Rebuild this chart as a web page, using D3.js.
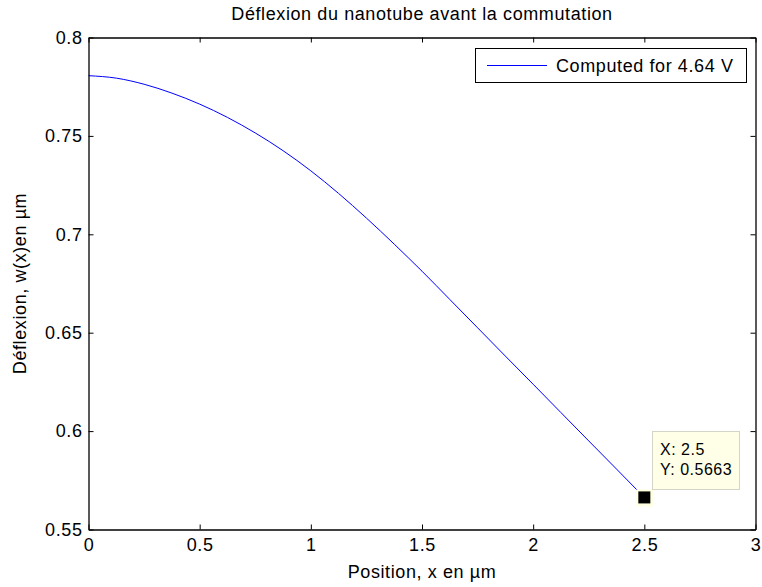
<!DOCTYPE html>
<html><head><meta charset="utf-8">
<script src="https://cdn.jsdelivr.net/npm/d3@7"></script>
<style>body{margin:0;background:#fff}svg{display:block}text{font-family:"Liberation Sans",Arial,sans-serif;fill:#000;letter-spacing:0.6px}</style>
</head><body><svg id="c" width="762" height="587"></svg>
<script>
const positions = [0,0.125,0.25,0.375,0.5,0.625,0.75,0.875,1.0,1.125,1.25,1.375,1.5,1.625,1.75,1.875,2.0,2.125,2.25,2.375,2.5];
const deflexion = [0.7806,0.77935,0.77625,0.77175,0.76615,0.7594,0.7515,0.7425,0.73225,0.72075,0.70825,0.6950,0.68125,0.6669,0.6525,0.6381,0.6238,0.6094,0.5950,0.5807,0.5663];
const xTicks = [0,0.5,1,1.5,2,2.5,3];
const yTicks = [0.55,0.6,0.65,0.7,0.75,0.8];
const tipPoint = {x:2.5, y:0.5663};
const title = "Déflexion du nanotube avant la commutation";
const xLabel = "Position, x en µm";
const yLabel = "Déflexion, w(x)en µm";
const legendLabel = "Computed for 4.64 V";

const L=88.5, R=755.5, T=37.5, B=529.5;
const svg=d3.select("#c");
const x=d3.scaleLinear().domain([0,3]).range([L,R]);
const y=d3.scaleLinear().domain([0.55,0.8]).range([B,T]);
const fs=18;

svg.append("rect").attr("x",L).attr("y",T).attr("width",R-L).attr("height",B-T).attr("fill","#fff");

// data line
const line=d3.line().x((d,i)=>x(positions[i])).y(d=>y(d)).curve(d3.curveMonotoneX);
svg.append("path").datum(deflexion).attr("d",line).attr("fill","none").attr("stroke","#0000ff").attr("stroke-width",1);

// axes
const fmt=d=>String(d);
const gB=svg.append("g").attr("transform",`translate(0,${B})`).call(d3.axisBottom(x).tickValues(xTicks).tickFormat(fmt).tickSizeInner(-5).tickSizeOuter(0).tickPadding(9));
const gT=svg.append("g").attr("transform",`translate(0,${T})`).call(d3.axisTop(x).tickValues(xTicks).tickFormat("").tickSizeInner(-5).tickSizeOuter(0));
const gL=svg.append("g").attr("transform",`translate(${L},0)`).call(d3.axisLeft(y).tickValues(yTicks).tickFormat(fmt).tickSizeInner(-5).tickSizeOuter(0).tickPadding(6));
const gR=svg.append("g").attr("transform",`translate(${R},0)`).call(d3.axisRight(y).tickValues(yTicks).tickFormat("").tickSizeInner(-5).tickSizeOuter(0));
[gB,gT,gL,gR].forEach(g=>{g.selectAll("path.domain").attr("stroke","#000").attr("stroke-width",1.3);g.selectAll("line").attr("stroke","#000");g.selectAll("text").attr("font-size",fs).attr("font-family","Liberation Sans, Arial, sans-serif").attr("fill","#000");});
gB.selectAll("text").attr("dy","0.71em");

// title & labels
svg.append("text").attr("x",(L+R)/2).attr("y",20).attr("text-anchor","middle").attr("font-size",fs).text(title);
svg.append("text").attr("x",(L+R)/2).attr("y",578).attr("text-anchor","middle").attr("font-size",fs).text(xLabel);
svg.append("text").attr("transform",`translate(26,${(T+B)/2}) rotate(-90)`).attr("text-anchor","middle").attr("font-size",fs).text(yLabel);

// legend
svg.append("rect").attr("x",475.5).attr("y",48.5).attr("width",271).attr("height",34).attr("fill","#fff").attr("stroke","#000").attr("stroke-width",1);
svg.append("line").attr("x1",487).attr("x2",547).attr("y1",65.5).attr("y2",65.5).attr("stroke","#0000ff").attr("stroke-width",1);
svg.append("text").attr("x",556).attr("y",72).attr("font-size",fs).text(legendLabel);

// datatip
const mx=x(tipPoint.x), my=y(tipPoint.y);
svg.append("rect").attr("x",mx-8).attr("y",my-8).attr("width",17).attr("height",17).attr("fill","#ffffe1");
svg.append("rect").attr("x",mx-6).attr("y",my-6).attr("width",12).attr("height",12).attr("fill","#000");
svg.append("rect").attr("x",652.5).attr("y",431.5).attr("width",87).attr("height",58).attr("fill","#ffffe8").attr("stroke","#d4d4c8").attr("stroke-width",1);
svg.append("text").attr("x",660).attr("y",455).attr("font-size",16).style("letter-spacing","0.5px").text("X: "+tipPoint.x);
svg.append("text").attr("x",660).attr("y",475).attr("font-size",16).style("letter-spacing","0.5px").text("Y: "+tipPoint.y);
</script></body></html>
